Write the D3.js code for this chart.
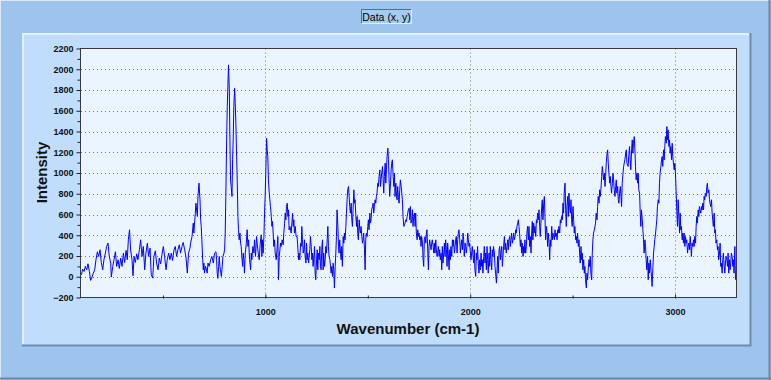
<!DOCTYPE html>
<html>
<head>
<meta charset="utf-8">
<script src="https://cdn.jsdelivr.net/npm/d3@7"></script>
<style>
  body { margin: 0; background: #9dc4ec; }
  svg { display: block; font-family: "Liberation Sans", Arial, sans-serif; }
</style>
</head>
<body>
<svg id="chart" width="771" height="380"></svg>
<script>
// spectrum, wavenumber (cm-1) / intensity
var wavenumber = [
  102,108,115,121,128,134,141,147,154,160,167,173,180,186,193,199,206,212,219,225,
  232,238,245,248,255,261,268,274,281,287,294,300,307,313,320,326,331,337,342,349,
  354,359,365,372,378,385,391,398,404,411,417,424,430,437,443,450,456,463,469,476,
  482,489,495,502,508,515,521,528,534,541,547,554,560,567,573,580,586,593,599,606,
  612,619,625,632,
  635,642,648,651,658,661,668,671,676,681,684,687,690,694,697,700,703,708,713,716,
  720,726,733,739,746,752,759,762,765,768,772,775,778,781,785,788,793,798,801,804,
  807,811,814,817,820,824,827,830,833,837,840,843,846,850,853,856,859,863,866,869,
  872,876,879,882,885,889,892,895,898,902,907,911,915,918,923,928,931,934,939,944,
  947,952,957,960,965,970,975,980,983,986,989,993,996,999,1002,1006,1009,1012,1015,1019,
  1022,1025,1029,1032,1035,1038,1041,1045,1048,1053,1058,1061,1064,1068,1071,1074,1077,1082,1087,1090,
  1094,1097,1100,1103,1107,1110,1113,1116,1120,1126,1133,1136,1139,1142,1146,1150,1155,1159,1162,1168,
  1165,1172,1175,1178,1181,1185,1188,1191,1194,1198,1201,1204,1207,1211,1214,1217,1220,1224,1227,1230,
  1233,1237,1240,1243,1246,1250,1253,1256,1259,1263,1266,1269,1272,1276,1279,1282,1285,1289,1292,1295,
  1298,1302,1305,1308,1311,1315,1318,1321,1324,1328,1331,1334,1337,1341,1344,1347,1350,1354,1357,1360,
  1363,1367,1370,1373,1376,1380,1383,1386,1389,1393,1396,1399,1402,1406,1409,1412,1415,1419,1422,1425,
  1428,1432,1435,1438,1441,1445,1448,1451,1454,1458,1461,1464,1467,1471,1474,1477,1480,1484,1487,1490,
  1493,1497,1500,1503,1506,1510,1513,1516,1519,1523,1526,1529,1532,1536,1539,1542,1545,1549,1552,1555,
  1559,1562,1565,1568,1572,1575,1578,1581,1585,1588,1591,1594,1598,1601,1604,1607,1611,1614,1617,1620,
  1624,1627,1630,1633,1637,1640,1643,1646,1650,1653,1656,1659,1663,1666,1669,1672,1676,1679,1682,1685,
  1689,1692,1695,1698,1702,
  1705,1708,1711,1715,1718,1721,1724,1728,1731,1734,1737,1741,1744,1747,1750,1754,1757,1760,1763,1767,
  1770,1773,1776,1780,1783,1786,1789,1793,1796,1799,1802,1806,1809,1812,1815,1819,1822,1825,1828,1832,
  1835,1838,1841,1845,1848,1851,1854,1858,1861,1864,1867,1871,1874,1877,1880,1884,1887,1890,1893,1897,
  1900,1903,1906,1910,1913,1916,1919,1923,1926,1929,1932,1936,1939,1942,1945,1949,1952,1955,1958,1962,
  1965,1968,1971,1975,1978,1981,1984,1988,1991,1994,1997,2001,2004,2007,2010,2014,2017,2020,2023,2027,
  2030,2033,2036,2040,2043,2046,2049,2053,2056,2059,2062,2066,2069,2072,2075,2079,2082,2085,2088,2092,
  2095,2098,2101,2105,2108,2111,2114,2118,2121,2124,2128,2131,2134,2137,2141,2144,2147,2150,2154,2157,
  2160,2163,2167,2170,2173,2176,2180,2183,2186,2189,2193,2196,2199,2202,2206,2209,2212,2215,2219,2222,
  2225,2228,2232,2235,2238,
  2241,2245,2248,2251,2254,2258,2261,2264,2267,2271,2274,2277,2280,2284,2287,2290,2293,2297,2300,2303,
  2306,2310,2313,2316,2320,2323,2326,2329,2333,2336,2339,2342,2346,2349,2352,2355,2359,2362,2365,2368,
  2372,2375,2378,2381,2385,2388,2391,2394,2398,2401,2404,2407,2411,2414,2417,2420,2424,2427,2430,2433,
  2437,2440,2443,2446,2450,2453,2456,2459,2463,2466,2469,2472,2476,2479,2482,2485,2489,2492,2495,2498,
  2502,2505,2508,2511,2515,2518,2521,2524,2528,2531,2534,2537,2541,2544,2547,2550,2554,2557,2560,2563,
  2567,2570,2573,2576,2580,2583,2586,2589,2593,2596,2599,2602,2606,2609,2612,2615,2619,2622,2625,2629,
  2632,2635,2638,2642,2645,2648,2651,2655,2658,2661,2664,2668,2671,2674,2677,2681,2684,2687,2690,2694,
  2697,2700,2703,2707,2710,2713,2716,2720,2723,2726,2729,2733,2736,2739,2742,2746,2749,2752,2755,2759,
  2762,2765,
  2771,2775,2778,2781,2784,2788,2791,2794,2797,2801,2804,2807,2810,2814,2817,2820,2823,2827,2830,2833,
  2836,2840,2843,2846,2849,2853,2856,2859,2862,2866,2869,2872,2875,2879,2882,2885,2888,2892,2895,2898,
  2901,2905,2908,2911,2914,2918,2921,2924,2927,2931,2934,2937,2940,2944,2947,2950,2953,2957,2960,2963,
  2966,2970,2973,2976,2979,2983,2986,2989,2992,2996,2999,3002,3005,3009,3012,3015,3018,3022,3025,3028,
  3031,3035,3038,3041,3044,3048,3051,3054,3057,3061,3064,3067,3070,3074,3077,3080,3083,3087,3090,3093,
  3096,3100,3103,3106,3109,3113,3116,3119,3122,3126,3129,3132,3135,3139,3142,3145,3148,3152,3155,3158,
  3161,3165,3168,3171,3174,3178,3181,3184,3187,3191,3194,3197,3200,3204,3207,3210,3213,3217,3220,3223,
  3226,3230,3233,3236,3240,3243,3246,3249,3253,3256,3259,3262,3266,3269,3272,3275,3279,3282,3285,3288,
  3292,3295
];
var intensity = [
  19,74,51,100,67,125,51,-35,-3,35,67,164,241,196,260,138,67,164,228,292,
  324,196,132,-3,100,164,241,100,164,80,180,100,228,138,254,164,356,453,260,164,
  10,196,138,221,164,260,356,196,292,67,228,324,196,276,19,-13,196,250,132,67,
  180,125,212,292,196,67,164,228,164,228,157,260,292,196,260,308,228,292,331,260,
  196,35,228,276,
  324,388,517,421,613,709,581,774,902,742,549,485,356,164,67,132,35,100,67,35,
  132,100,164,196,132,228,241,164,35,-16,100,196,100,67,3,67,196,228,260,421,
  774,1319,1640,1833,2042,1801,1319,934,870,774,1127,1319,1640,1817,1672,1480,1223,902,581,453,
  356,421,324,292,196,100,228,164,35,228,324,453,292,356,164,67,228,164,292,228,
  356,196,388,324,228,164,324,404,196,356,228,388,613,774,998,1335,1223,1159,934,806,
  742,677,581,485,533,421,292,356,228,164,292,388,-29,196,260,324,292,356,308,421,
  517,613,549,677,709,581,645,453,485,421,613,485,549,421,485,388,388,260,164,164,
  228,324,292,485,356,228,260,356,196,132,324,164,228,132,196,260,388,292,164,228,
  100,196,292,35,-29,164,260,67,228,164,292,100,67,292,356,67,228,100,164,292,
  228,356,485,292,196,164,100,35,100,3,132,67,-109,100,228,388,645,485,292,228,
  356,228,164,292,100,388,324,421,356,485,613,742,838,870,774,677,613,709,549,485,
  645,838,709,742,613,485,581,421,356,549,453,421,485,388,324,356,421,260,67,356,
  421,388,485,549,453,613,517,549,645,677,709,613,677,742,709,774,806,902,870,966,
  1030,870,934,998,1063,934,806,966,1095,902,1030,1159,1239,1127,934,774,902,1030,1095,1127,
  966,870,998,774,902,774,742,870,742,709,838,934,870,806,742,581,485,501,517,549,
  533,581,613,645,661,
  549,677,517,549,645,485,581,613,485,613,421,356,453,388,421,356,388,292,388,324,
  164,100,356,388,324,421,453,228,67,292,356,292,260,324,356,292,228,324,228,356,
  260,196,228,292,196,260,164,228,67,292,132,228,324,196,356,260,100,324,228,67,
  260,164,292,196,356,292,356,228,292,356,388,228,356,421,453,356,228,292,356,260,
  421,356,196,324,292,228,292,421,356,292,324,228,164,228,292,196,132,260,67,3,
  228,164,292,100,35,164,67,228,100,164,35,196,292,132,228,67,292,164,35,228,
  100,292,164,67,260,196,292,228,100,35,-61,67,196,35,260,292,164,228,292,100,
  196,292,388,260,324,228,292,356,260,356,388,292,356,421,324,356,421,356,388,453,
  421,485,517,549,485,
  421,292,356,228,324,196,292,228,356,228,292,421,485,356,485,292,388,228,421,533,
  356,517,421,485,388,549,517,613,549,645,485,388,549,677,742,549,709,774,581,356,
  485,421,292,421,324,164,356,292,485,356,421,388,356,453,388,421,356,453,421,485,
  421,549,517,581,549,709,613,806,902,645,485,677,774,581,806,677,613,742,549,485,
  677,549,421,485,356,388,324,421,292,356,228,132,292,164,228,67,164,35,100,-29,
  -109,35,-29,67,164,100,196,35,-29,228,356,421,453,485,517,613,549,677,774,709,
  838,774,838,966,1063,998,934,998,870,966,1095,1191,1223,1095,998,902,966,870,806,902,
  998,934,838,774,870,934,806,870,742,709,806,870,774,677,902,998,1063,1095,1127,1191,
  1223,1095,
  1063,1191,1255,1127,1030,1223,1319,1191,1287,1351,1223,1063,934,998,902,998,838,806,613,485,
  645,549,453,356,228,356,292,164,67,196,-29,132,35,164,67,3,-93,100,228,292,
  356,421,485,549,677,742,709,902,998,1063,1127,1159,1063,1223,1127,1255,1351,1287,1448,1319,
  1416,1255,1319,1191,1255,1127,1287,1159,1095,1030,1095,998,838,613,485,742,613,421,613,453,
  485,356,421,324,421,292,388,324,356,228,292,324,260,388,292,196,324,292,356,292,
  388,324,485,581,517,645,581,677,645,613,677,645,709,645,774,742,806,774,870,902,
  806,838,742,709,677,742,613,549,485,613,421,453,324,356,260,292,164,228,324,100,
  132,35,164,228,100,35,132,196,164,100,228,35,164,67,132,228,196,100,164,35,
  292,-29
];

var xTicks = [1000, 2000, 3000];
var xMinorTicks = [500, 1500, 2500];
var yTicks = [-200, 0, 200, 400, 600, 800, 1000, 1200, 1400, 1600, 1800, 2000, 2200];
var yMinorTicks = [-100, 100, 300, 500, 700, 900, 1100, 1300, 1500, 1700, 1900, 2100];
var gridX = [1000, 2000, 3000];
var gridY = [0, 200, 400, 600, 800, 1000, 1200, 1400, 1600, 1800, 2000];

var titleText = "Data (x, y)";
var xLabel = "Wavenumber (cm-1)";
var yLabel = "Intensity";

var plot = {left: 81, right: 736.5, top: 48.5, bottom: 297.5};
var tickFont = "'Liberation Sans Narrow', 'Liberation Sans', Arial, sans-serif";

var svg = d3.select("#chart");

// outer frame
svg.append("rect").attr("width", 771).attr("height", 380).attr("fill", "#9dc4ec");
svg.append("line").attr("x1", 0).attr("x2", 771).attr("y1", 0.5).attr("y2", 0.5).attr("stroke", "#d6e8fa");
svg.append("line").attr("x1", 0.5).attr("x2", 0.5).attr("y1", 0).attr("y2", 380).attr("stroke", "#d6e8fa");
svg.append("line").attr("x1", 769.5).attr("x2", 769.5).attr("y1", 0).attr("y2", 380).attr("stroke", "#6a88a8").attr("stroke-width", 2);
svg.append("line").attr("x1", 0).attr("x2", 771).attr("y1", 378.5).attr("y2", 378.5).attr("stroke", "#6a88a8").attr("stroke-width", 2);

// title box
var tb = svg.append("g");
tb.append("rect").attr("x", 361).attr("y", 9).attr("width", 51).attr("height", 15)
  .attr("fill", "#a6cbf1");
tb.append("path").attr("d", "M361.5,23.5V9.5H411.5").attr("fill", "none").attr("stroke", "#55708f");
tb.append("path").attr("d", "M361.5,23.5H411.5V9.5").attr("fill", "none").attr("stroke", "#e2eefb");
tb.append("text").attr("x", 386.5).attr("y", 20.5).attr("text-anchor", "middle")
  .attr("font-size", 10.5).attr("fill", "#000").text(titleText);

// inner panel
svg.append("rect").attr("x", 22).attr("y", 33).attr("width", 728).attr("height", 312).attr("fill", "#c0ddfb");
svg.append("path").attr("d", "M23,344V34H749").attr("fill", "none").attr("stroke", "#e4f0fd").attr("stroke-width", 2);
svg.append("path").attr("d", "M22,345.5H750.5V33").attr("fill", "none").attr("stroke", "#6d8caf").attr("stroke-width", 2);

// plot area
svg.append("rect").attr("x", plot.left).attr("y", plot.top)
  .attr("width", plot.right - plot.left).attr("height", plot.bottom - plot.top)
  .attr("fill", "#eaf5ff");

var x = d3.scaleLinear().domain([100, 3300]).range([plot.left, plot.right]);
var y = d3.scaleLinear().domain([-200, 2200]).range([plot.bottom, plot.top]);

// dotted grid
svg.append("g").selectAll("line").data(gridY).enter().append("line")
  .attr("x1", plot.left).attr("x2", plot.right)
  .attr("y1", function(d){ return Math.round(y(d)) + 0.5; })
  .attr("y2", function(d){ return Math.round(y(d)) + 0.5; })
  .attr("stroke", "#777").attr("stroke-dasharray", "1,3");
svg.append("g").selectAll("line").data(gridX).enter().append("line")
  .attr("y1", plot.top).attr("y2", plot.bottom)
  .attr("x1", function(d){ return Math.round(x(d)) + 0.5; })
  .attr("x2", function(d){ return Math.round(x(d)) + 0.5; })
  .attr("stroke", "#777").attr("stroke-dasharray", "1,3");

// spectrum
svg.append("clipPath").attr("id", "clip").append("rect")
  .attr("x", plot.left).attr("y", plot.top)
  .attr("width", plot.right - plot.left).attr("height", plot.bottom - plot.top);

var pts = wavenumber.map(function(w, i){ return [w, intensity[i]]; })
  .filter(function(d){ return d[1] !== undefined; });
pts.sort(function(a, b){ return a[0] - b[0]; });

var line = d3.line()
  .x(function(d){ return x(d[0]); })
  .y(function(d){ return y(d[1]); });

svg.append("path").datum(pts)
  .attr("clip-path", "url(#clip)")
  .attr("d", line)
  .attr("fill", "none")
  .attr("stroke", "#0000ff")
  .attr("stroke-width", 1);

// frame round the plot
svg.append("rect").attr("x", plot.left - 0.5).attr("y", plot.top)
  .attr("width", plot.right - plot.left + 0.5).attr("height", plot.bottom - plot.top)
  .attr("fill", "none").attr("stroke", "#3a3a3a");

// y axis
var yAxis = d3.axisLeft(y).tickValues(yTicks).tickSize(4).tickPadding(3).tickFormat(d3.format("d"));
var gy = svg.append("g").attr("transform", "translate(" + (plot.left - 0.5) + ",0)").call(yAxis);
gy.select(".domain").remove();
gy.selectAll("line").attr("stroke", "#222");
gy.selectAll("text").attr("font-size", 9).attr("font-weight", "bold")
  .attr("font-family", tickFont).attr("fill", "#111");
var gym = svg.append("g").attr("transform", "translate(" + (plot.left - 0.5) + ",0)")
  .call(d3.axisLeft(y).tickValues(yMinorTicks).tickSize(3).tickFormat(""));
gym.select(".domain").remove();
gym.selectAll("line").attr("stroke", "#222");

// x axis
var xAxis = d3.axisBottom(x).tickValues(xTicks).tickSizeInner(-4).tickSizeOuter(0).tickPadding(10)
  .tickFormat(d3.format("d"));
var gx = svg.append("g").attr("transform", "translate(0," + (plot.bottom + 1) + ")").call(xAxis);
gx.select(".domain").remove();
gx.selectAll("line").attr("stroke", "#222");
gx.selectAll("text").attr("font-size", 9).attr("font-weight", "bold")
  .attr("font-family", tickFont).attr("fill", "#111");
var gxm = svg.append("g").attr("transform", "translate(0," + (plot.bottom + 1) + ")")
  .call(d3.axisBottom(x).tickValues(xMinorTicks).tickSizeInner(-3).tickSizeOuter(0).tickFormat(""));
gxm.select(".domain").remove();
gxm.selectAll("line").attr("stroke", "#222");

// axis titles
svg.append("text").attr("x", 408).attr("y", 334).attr("text-anchor", "middle")
  .attr("font-size", 15).attr("font-weight", "bold").attr("fill", "#111").text(xLabel);
svg.append("text").attr("transform", "translate(47,172.5) rotate(-90)").attr("text-anchor", "middle")
  .attr("font-size", 15).attr("font-weight", "bold").attr("fill", "#111").text(yLabel);
</script>
</body>
</html>
